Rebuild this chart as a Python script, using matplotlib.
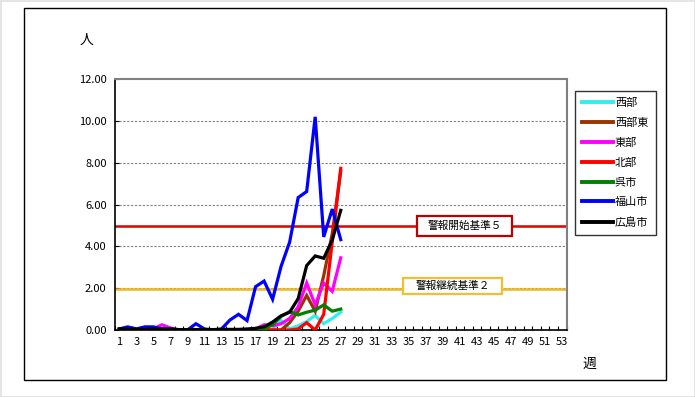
import matplotlib
matplotlib.use("Agg")
import matplotlib.pyplot as plt
from matplotlib.patches import Rectangle
from matplotlib.lines import Line2D

plt.rcParams['font.family'] = ['Noto Sans CJK JP', 'DejaVu Sans']

weeks = list(range(1, 28))
series_names = ['西部', '西部東', '東部', '北部', '呉市', '福山市', '広島市']
seibu = [0]*19 + [0.45, 0.05, 0.2, 0.4, 0.7, 0.3, 0.55, 0.85]
seibu_higashi = [0]*19 + [0, 0.35, 0.9, 1.65, 0.9, 2.6, 4.6, 7.6]
tobu = [0.05, 0.05, 0.05, 0.05, 0.05, 0.25, 0.1, 0, 0, 0, 0, 0, 0, 0, 0, 0, 0.05, 0.25, 0.2,
        0.3, 0.55, 1.1, 2.25, 1.2, 2.25, 1.85, 3.45]
hokubu = [0]*19 + [0, 0, 0.05, 0.35, 0, 0.75, 4.2, 7.73]
kure = [0]*17 + [0.05, 0.25, 0.65, 0.88, 0.72, 0.85, 0.95, 1.2, 0.9, 1.0]
fukuyama = [0.05, 0.15, 0.05, 0.15, 0.15, 0.05, 0.05, 0, 0, 0.3, 0.05, 0, 0.05, 0.48, 0.75, 0.45,
            2.07, 2.34, 1.47, 3.05, 4.2, 6.33, 6.62, 10.19, 4.45, 5.78, 4.32]
hiroshima = [0.05, 0.05, 0.03, 0.03, 0.05, 0.05, 0.05, 0.02, 0.02, 0.02, 0.02, 0.02, 0.03, 0.03,
             0.03, 0.05, 0.08, 0.15, 0.38, 0.68, 0.85, 1.5, 3.08, 3.54, 3.43, 4.3, 5.72]
series_values = [seibu, seibu_higashi, tobu, hokubu, kure, fukuyama, hiroshima]
colors = ['#33EEEE', '#993300', '#FF00FF', '#FF0000', '#008000', '#0000FF', '#000000']

alarm_start = 4.95
alarm_continue = 1.95
alarm_start_label = '警報開始基準５'
alarm_continue_label = '警報継続基準２'

xtick_labels = [str(w) for w in range(1, 54, 2)]
ytick_values = [0, 2, 4, 6, 8, 10, 12]
ytick_labels = ['0.00', '2.00', '4.00', '6.00', '8.00', '10.00', '12.00']

W, H = 695, 397
fig = plt.figure(figsize=(W/100, H/100), dpi=100)
fig.patch.set_facecolor('white')


def px_rect(x0, y0, x1, y1, **kw):
    return Rectangle((x0/W, 1-y1/H), (x1-x0)/W, (y1-y0)/H, transform=fig.transFigure, **kw)


# outer frames
fig.patches.append(px_rect(0.5, 0.5, W-0.5, H-0.5, fill=False, edgecolor='#E0E0E0', linewidth=1.2))
fig.patches.append(px_rect(24, 8, 666, 380, fill=False, edgecolor='black', linewidth=1.0))

ax = fig.add_axes([115/W, 1-330/H, (566.5-115)/W, (330-79)/H])
ax.set_xlim(0.5, 53.5)
ax.set_ylim(0, 12)

for y in [2, 4, 6, 8, 10]:
    ax.axhline(y, color='#808080', linestyle=(0, (2, 1.5)), linewidth=0.8, zorder=1)

ax.axhline(alarm_start, color='#E00000', linewidth=1.8, zorder=2)
ax.axhline(alarm_continue, color='#EDB92A', linewidth=1.8, zorder=2)

handles = []
for name, vals, c in zip(series_names, series_values, colors):
    ax.plot(weeks, vals, color=c, linewidth=2.3, zorder=3, solid_joinstyle='miter')
    handles.append(Line2D([], [], color=c, linewidth=2.8))

# threshold label boxes
fig.patches.append(px_rect(417, 216, 512, 236, facecolor='white', edgecolor='#C00000',
                           linewidth=1.6, zorder=5))
fig.text(464.5/W, 1-226/H, alarm_start_label, ha='center', va='center', fontsize=7.7, zorder=6)
fig.patches.append(px_rect(403, 278, 502, 294, facecolor='white', edgecolor='#F0C030',
                           linewidth=1.6, zorder=5))
fig.text(452.5/W, 1-286/H, alarm_continue_label, ha='center', va='center', fontsize=7.7, zorder=6)

ax.set_xticks(range(1, 54, 2))
ax.set_xticklabels(xtick_labels, fontsize=8)
ax.set_xticks([x + 0.5 for x in range(0, 54)], minor=True)
ax.tick_params(axis='x', which='major', length=0, pad=5)
ax.tick_params(axis='x', which='minor', direction='in', length=3, width=0.8)
ax.set_yticks(ytick_values)
ax.set_yticklabels(ytick_labels, fontsize=8)
ax.tick_params(axis='y', direction='in', length=3, width=0.8, pad=6)

for s in ['top', 'right']:
    ax.spines[s].set_color('#808080')
    ax.spines[s].set_linewidth(1.5)
for s in ['left', 'bottom']:
    ax.spines[s].set_color('black')
    ax.spines[s].set_linewidth(1.2)

fig.text(86/W, 1-40/H, '人', fontsize=10, ha='center', va='center')
fig.text(589/W, 1-364/H, '週', fontsize=10, ha='center', va='center')

leg = fig.legend(handles, series_names, loc='upper left', bbox_to_anchor=(575/W, 1-91/H),
                 frameon=True, fancybox=False, edgecolor='black', fontsize=8,
                 handlelength=2.8, handletextpad=0.15, labelspacing=0.88,
                 borderpad=0.65, borderaxespad=0)
leg.get_frame().set_linewidth(1.0)

fig.savefig('out.png', dpi=100, facecolor='white')
